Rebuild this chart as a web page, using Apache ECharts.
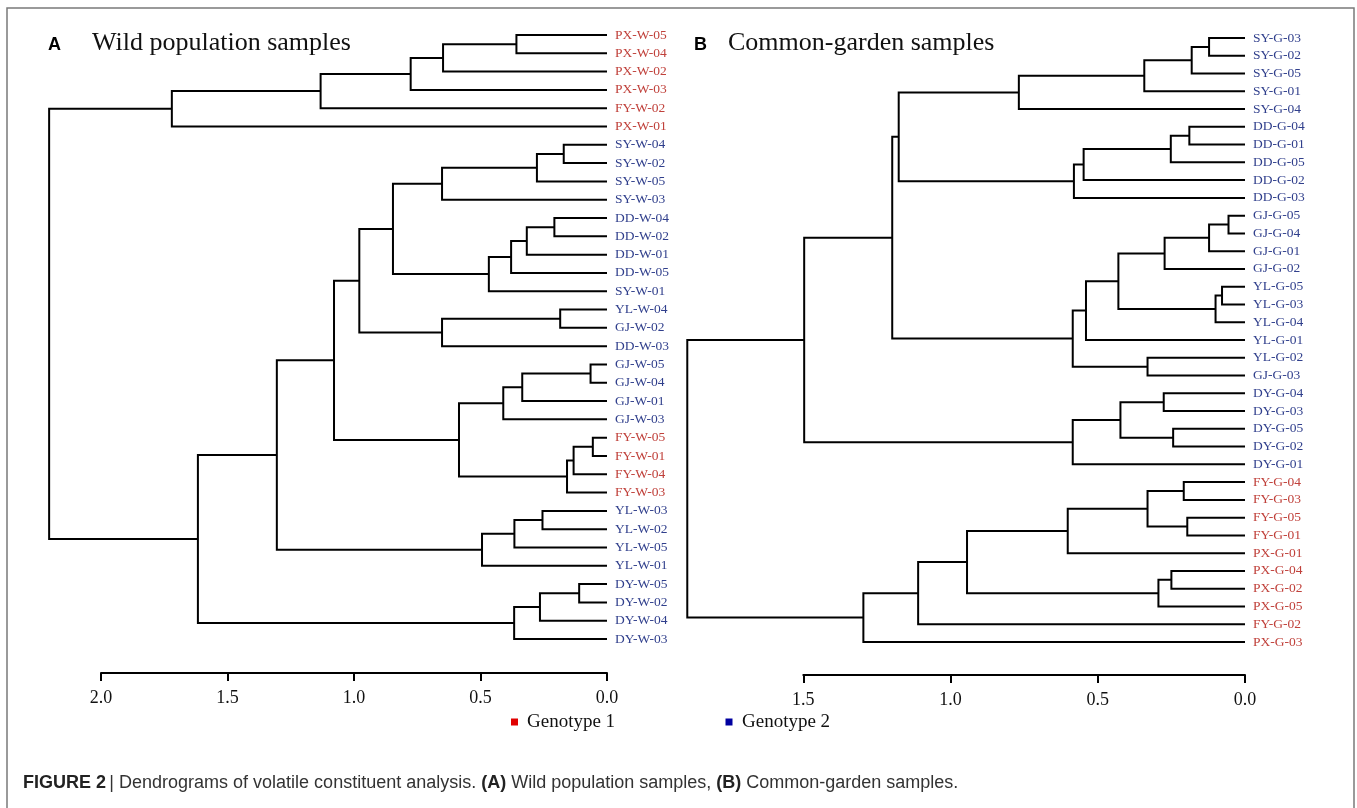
<!DOCTYPE html>
<html>
<head>
<meta charset="utf-8">
<title>Dendrograms of volatile constituent analysis</title>
<script src="https://cdn.jsdelivr.net/npm/echarts@6/dist/echarts.min.js"></script>
<style>
  html, body { margin: 0; padding: 0; background: #fff; }
  #chart { width: 1357px; height: 808px; }
</style>
</head>
<body>
<div id="chart"></div>
<script>
// 1. 叶子节点（自上而下）与基因型 1 = Genotype 1（红），2 = Genotype 2（蓝）
const wildLeaves = [
  "PX-W-05", "PX-W-04", "PX-W-02", "PX-W-03", "FY-W-02", "PX-W-01",
  "SY-W-04", "SY-W-02", "SY-W-05", "SY-W-03",
  "DD-W-04", "DD-W-02", "DD-W-01", "DD-W-05", "SY-W-01",
  "YL-W-04", "GJ-W-02", "DD-W-03",
  "GJ-W-05", "GJ-W-04", "GJ-W-01", "GJ-W-03",
  "FY-W-05", "FY-W-01", "FY-W-04", "FY-W-03",
  "YL-W-03", "YL-W-02", "YL-W-05", "YL-W-01",
  "DY-W-05", "DY-W-02", "DY-W-04", "DY-W-03",
];
const wildGenotype = [
  1, 1, 1, 1, 1, 1,
  2, 2, 2, 2,
  2, 2, 2, 2, 2,
  2, 2, 2,
  2, 2, 2, 2,
  1, 1, 1, 1,
  2, 2, 2, 2,
  2, 2, 2, 2,
];
// 合并记录 [节点a, 节点b, 距离]，节点编号 >= 叶子数 表示之前的合并结果（同 scipy linkage）
const wildMerges = [
  [0, 1, 0.358], [34, 2, 0.648], [35, 3, 0.776], [36, 4, 1.132], [37, 5, 1.72],
  [6, 7, 0.171], [39, 8, 0.277], [40, 9, 0.652],
  [10, 11, 0.208], [42, 12, 0.317], [43, 13, 0.379], [44, 14, 0.467],
  [41, 45, 0.846],
  [15, 16, 0.185], [47, 17, 0.652],
  [46, 48, 0.979],
  [18, 19, 0.065], [50, 20, 0.335], [51, 21, 0.41],
  [22, 23, 0.056], [53, 24, 0.132], [54, 25, 0.158],
  [52, 55, 0.585],
  [49, 56, 1.079],
  [26, 27, 0.255], [58, 28, 0.366], [59, 29, 0.494],
  [57, 60, 1.305],
  [30, 31, 0.11], [62, 32, 0.265], [63, 33, 0.367],
  [61, 64, 1.617],
  [38, 65, 2.205],
];

const gardenLeaves = [
  "SY-G-03", "SY-G-02", "SY-G-05", "SY-G-01", "SY-G-04",
  "DD-G-04", "DD-G-01", "DD-G-05", "DD-G-02", "DD-G-03",
  "GJ-G-05", "GJ-G-04", "GJ-G-01", "GJ-G-02",
  "YL-G-05", "YL-G-03", "YL-G-04", "YL-G-01", "YL-G-02", "GJ-G-03",
  "DY-G-04", "DY-G-03", "DY-G-05", "DY-G-02", "DY-G-01",
  "FY-G-04", "FY-G-03", "FY-G-05", "FY-G-01", "PX-G-01",
  "PX-G-04", "PX-G-02", "PX-G-05", "FY-G-02", "PX-G-03",
];
const gardenGenotype = [
  2, 2, 2, 2, 2,
  2, 2, 2, 2, 2,
  2, 2, 2, 2,
  2, 2, 2, 2, 2, 2,
  2, 2, 2, 2, 2,
  1, 1, 1, 1, 1,
  1, 1, 1, 1, 1,
];
const gardenMerges = [
  [0, 1, 0.122], [35, 2, 0.181], [36, 3, 0.342], [37, 4, 0.768],
  [5, 6, 0.189], [39, 7, 0.252], [40, 8, 0.548], [41, 9, 0.581],
  [38, 42, 1.176],
  [10, 11, 0.056], [44, 12, 0.122], [45, 13, 0.273],
  [14, 15, 0.078], [47, 16, 0.1],
  [46, 48, 0.43], [49, 17, 0.54],
  [18, 19, 0.331],
  [50, 51, 0.585],
  [43, 52, 1.198],
  [20, 21, 0.276], [22, 23, 0.244], [54, 55, 0.423], [56, 24, 0.585],
  [53, 57, 1.497],
  [25, 26, 0.208], [27, 28, 0.196], [59, 60, 0.331], [61, 29, 0.602],
  [30, 31, 0.25], [63, 32, 0.294],
  [62, 64, 0.944], [65, 33, 1.11], [66, 34, 1.296],
  [58, 67, 1.894],
];

// 距离轴刻度
const wildTicks = [0, 0.5, 1.0, 1.5, 2.0];
const gardenTicks = [0, 0.5, 1.0, 1.5];

const genotypeNames = ["Genotype 1", "Genotype 2"];
const genotypeColors = { 1: "#c0413b", 2: "#303f8c" };

// 2. 根据合并记录生成“肘形”连线数据 [hA, yA, h, hB, yB]
const buildSegments = (nLeaves, merges) => {
  const y = [];
  const h = [];
  for (let i = 0; i < nLeaves; i++) {
    y.push(i);
    h.push(0);
  }
  const segs = [];
  merges.forEach(([a, b, height]) => {
    segs.push([h[a], y[a], height, h[b], y[b]]);
    y.push((y[a] + y[b]) / 2);
    h.push(height);
  });
  return segs;
};

const renderElbow = (params, api) => {
  const a = api.coord([api.value(0), api.value(1)]);
  const p1 = api.coord([api.value(2), api.value(1)]);
  const p2 = api.coord([api.value(2), api.value(4)]);
  const b = api.coord([api.value(3), api.value(4)]);
  return {
    type: "polyline",
    shape: { points: [a, p1, p2, b] },
    style: { stroke: "#000", lineWidth: 2, fill: null },
  };
};

const serif = "'Liberation Serif', 'Times New Roman', serif";
const sans = "'Liberation Sans', Arial, sans-serif";

const makeXAxis = (gridIndex, ticks, offset) => ({
  type: "value",
  gridIndex,
  inverse: true,
  min: 0,
  max: ticks[ticks.length - 1],
  interval: 0.5,
  position: "bottom",
  offset,
  axisLine: { onZero: false, lineStyle: { color: "#000", width: 2 } },
  axisTick: { length: 8, lineStyle: { color: "#000", width: 2 } },
  axisLabel: {
    margin: 16,
    fontFamily: serif,
    fontSize: 18,
    color: "#111",
    formatter: (v) => v.toFixed(1),
  },
  splitLine: { show: false },
});

const makeTreeY = (gridIndex, n) => ({
  type: "value",
  gridIndex,
  inverse: true,
  min: 0,
  max: n - 1,
  show: false,
});

const makeLabelY = (gridIndex, leaves, genotype) => ({
  type: "category",
  gridIndex,
  inverse: true,
  boundaryGap: false,
  position: "right",
  data: leaves,
  axisLine: { show: false },
  axisTick: { show: false },
  axisLabel: {
    margin: 8,
    interval: 0,
    formatter: (v, i) => "{g" + genotype[i] + "|" + v + "}",
    rich: {
      g1: { color: genotypeColors[1], fontFamily: serif, fontSize: 13.5 },
      g2: { color: genotypeColors[2], fontFamily: serif, fontSize: 13.5 },
    },
  },
  splitLine: { show: false },
});

// 3. 初始化图表
const chart = echarts.init(document.getElementById("chart"));

chart.setOption({
  animation: false,
  backgroundColor: "#fff",
  grid: [
    { left: 101, top: 35, width: 506, height: 604 },
    { left: 803.3, top: 38, width: 441.7, height: 604 },
  ],
  xAxis: [makeXAxis(0, wildTicks, 34), makeXAxis(1, gardenTicks, 33)],
  yAxis: [
    makeTreeY(0, wildLeaves.length),
    makeLabelY(0, wildLeaves, wildGenotype),
    makeTreeY(1, gardenLeaves.length),
    makeLabelY(1, gardenLeaves, gardenGenotype),
  ],
  series: [
    {
      type: "custom",
      name: "Wild",
      xAxisIndex: 0,
      yAxisIndex: 0,
      clip: false,
      encode: { x: [0, 2, 3], y: [1, 4] },
      renderItem: renderElbow,
      data: buildSegments(wildLeaves.length, wildMerges),
    },
    {
      type: "custom",
      name: "Garden",
      xAxisIndex: 1,
      yAxisIndex: 2,
      clip: false,
      encode: { x: [0, 2, 3], y: [1, 4] },
      renderItem: renderElbow,
      data: buildSegments(gardenLeaves.length, gardenMerges),
    },
  ],
  graphic: [
    // 外框
    {
      type: "rect",
      shape: { x: 7, y: 8, width: 1347, height: 900 },
      style: { fill: null, stroke: "#7a7a7a", lineWidth: 1.5 },
      silent: true,
    },
    // 面板标题
    {
      type: "text", x: 48, y: 45,
      style: { text: "A", font: "bold 18px " + sans, fill: "#000", textVerticalAlign: "middle" },
    },
    {
      type: "text", x: 92, y: 43,
      style: { text: "Wild population samples", font: "26px " + serif, fill: "#111", textVerticalAlign: "middle" },
    },
    {
      type: "text", x: 694, y: 45,
      style: { text: "B", font: "bold 18px " + sans, fill: "#000", textVerticalAlign: "middle" },
    },
    {
      type: "text", x: 728, y: 43,
      style: { text: "Common-garden samples", font: "26px " + serif, fill: "#111", textVerticalAlign: "middle" },
    },
    // 图例
    {
      type: "rect", shape: { x: 511, y: 718.5, width: 7, height: 7 },
      style: { fill: "#e00000" },
    },
    {
      type: "text", x: 527, y: 722,
      style: { text: genotypeNames[0], font: "19px " + serif, fill: "#111", textVerticalAlign: "middle" },
    },
    {
      type: "rect", shape: { x: 725.5, y: 718.5, width: 7, height: 7 },
      style: { fill: "#0000a0" },
    },
    {
      type: "text", x: 742, y: 722,
      style: { text: genotypeNames[1], font: "19px " + serif, fill: "#111", textVerticalAlign: "middle" },
    },
    // 图注
    {
      type: "text", x: 23, y: 783,
      style: {
        text:
          "{b|FIGURE 2} {n|| Dendrograms of volatile constituent analysis. }{b|(A)}{n| Wild population samples, }{b|(B)}{n| Common-garden samples.}",
        textVerticalAlign: "middle",
        rich: {
          b: { fontFamily: sans, fontSize: 18, fontWeight: "bold", fill: "#222", color: "#222" },
          n: { fontFamily: sans, fontSize: 18, fill: "#333", color: "#333" },
        },
      },
    },
  ],
});

window.addEventListener("resize", () => chart.resize());
</script>
</body>
</html>
